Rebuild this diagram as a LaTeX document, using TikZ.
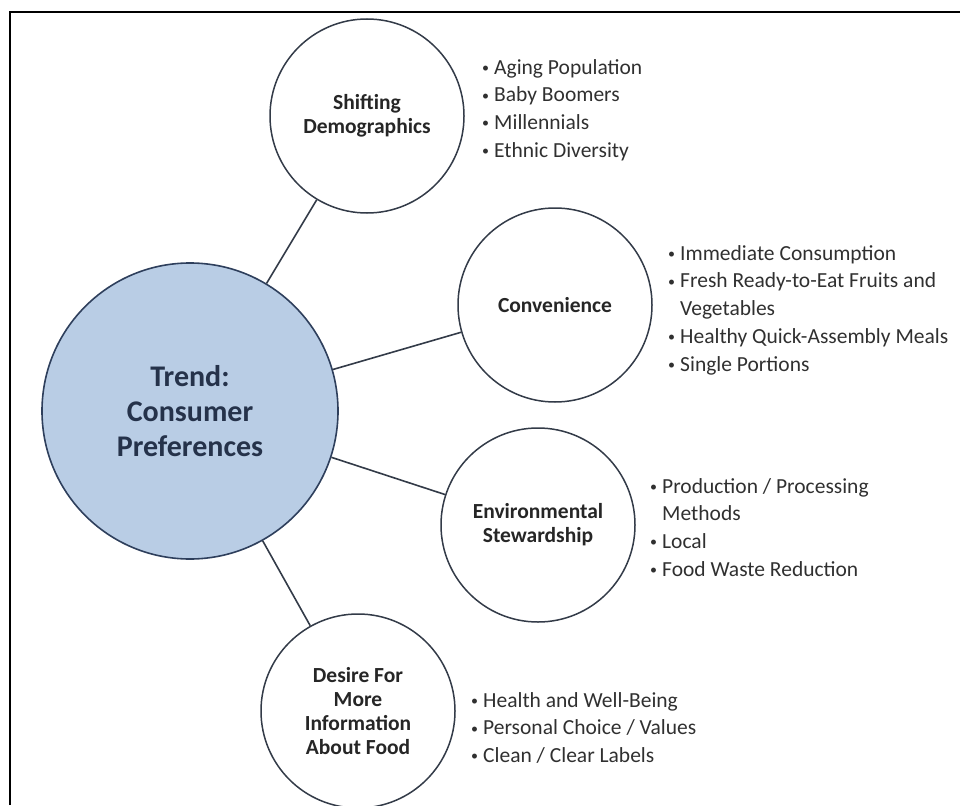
\documentclass[tikz,border=0pt]{standalone}
\usepackage{fontspec}
\usepackage{xcolor}
\usepackage{tikz}
\setmainfont{Carlito}

\definecolor{hubfill}{HTML}{B9CDE5}
\definecolor{hubline}{HTML}{2E3F5C}
\definecolor{rimline}{HTML}{333B48}
\definecolor{listtext}{HTML}{303030}

\newcommand{\bl}{\makebox[12pt][l]{\raisebox{1.8pt}{\fontsize{14}{14}\selectfont\textbullet}}}
\newcommand{\nb}{\hspace*{12pt}}

\tikzset{
  hub/.style={circle, draw=hubline, fill=hubfill, line width=1.6pt, minimum size=296pt, inner sep=0pt,
    align=center, text=hubline!80!black, font=\fontsize{30}{35}\selectfont\bfseries},
  topic/.style={circle, draw=rimline, fill=white, line width=1.5pt, minimum size=194pt, inner sep=0pt,
    align=center, text=black!85, font=\fontsize{21.5}{24}\selectfont\bfseries},
  points/.style={anchor=north west, inner sep=0pt, align=left, text=listtext,
    font=\fontsize{21.5}{27.8}\selectfont},
  spoke/.style={draw=rimline, line width=1.6pt}
}

\begin{document}
\begin{tikzpicture}[x=1pt, y=-1pt]
\useasboundingbox (0,0) rectangle (960,805);
\draw[line width=2pt] (10,805) -- (10,12) -- (960,12);

\node[hub] (trend) at (190,411) {Trend:\\Consumer\\Preferences};
\node[topic] (demo) at (367,116) {Shifting\\Demographics};
\node[topic] (conv) at (555,305) {Convenience};
\node[topic] (envi) at (538,525) {Environmental\\Stewardship};
\node[topic] (info) at (358,711) {Desire For\\More\\Information\\About Food};

\draw[spoke] (trend) -- (demo);
\draw[spoke] (trend) -- (conv);
\draw[spoke] (trend) -- (envi);
\draw[spoke] (trend) -- (info);

\node[points] (demolist) at (482,59) {\bl Aging Population\\ \bl Baby Boomers\\ \bl Millennials\\ \bl Ethnic Diversity};
\node[points] (convlist) at (668,245) {\bl Immediate Consumption\\ \bl Fresh Ready-to-Eat Fruits and\\ \nb Vegetables\\ \bl Healthy Quick-Assembly Meals\\ \bl Single Portions};
\node[points] (envilist) at (650,478) {\bl Production / Processing\\ \nb Methods\\ \bl Local\\ \bl Food Waste Reduction};
\node[points] (infolist) at (471,692) {\bl Health and Well-Being\\ \bl Personal Choice / Values\\ \bl Clean / Clear Labels};
\end{tikzpicture}
\end{document}
